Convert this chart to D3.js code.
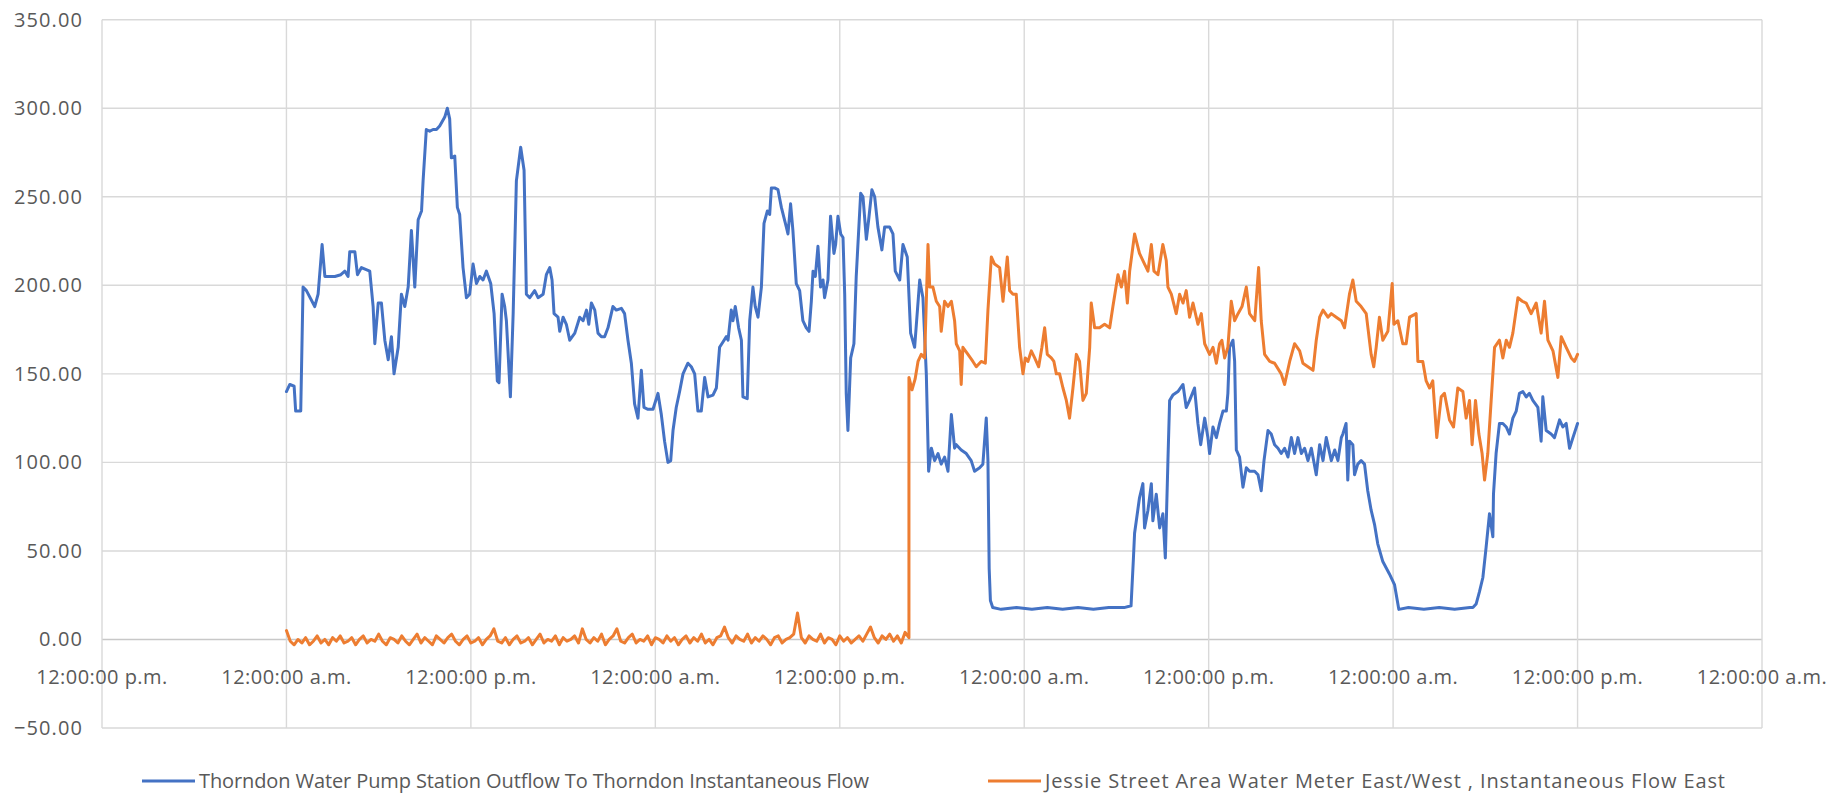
<!DOCTYPE html>
<html>
<head>
<meta charset="UTF-8" />
<title>Thorndon / Jessie Street flow</title>
<style>
  body { margin: 0; background: #fff; }
  svg text { font-family: "Open Sans", "Noto Sans", sans-serif; fill: #595959; }
</style>
</head>
<body>
<svg></svg>
<script src="https://d3js.org/d3.v7.min.js"></script>
<script>
// values, hours counted from the first midnight
const yTicks = [-50, 0, 50, 100, 150, 200, 250, 300, 350];
const xTickHours = [-12, 0, 12, 24, 36, 48, 60, 72, 84, 96];
const seriesNames = [
  "Thorndon Water Pump Station Outflow To Thorndon Instantaneous Flow",
  "Jessie Street Area Water Meter East/West , Instantaneous Flow East"
];
const seriesColours = ["#4472c4", "#ed7d31"];

// blue: [hour, flow]
const pumpOutflow = [
  [0,140],[0.22,144],[0.5,143],[0.6,129],[0.93,129],[1.08,199],[1.3,197],[1.84,188],[2.06,195],[2.32,223],
  [2.5,205],[3.15,205],[3.54,206],[3.8,208],[4.01,205],[4.12,219],[4.45,219],[4.62,206],[4.88,210],[5.42,208],
  [5.64,188],[5.75,167],[5.97,190],[6.18,190],[6.4,169],[6.62,158],[6.83,171],[7.0,150],[7.27,165],[7.48,195],
  [7.7,188],[7.92,199],[8.13,231],[8.35,199],[8.57,237],[8.79,242],[8.89,259],[9.1,288],[9.32,287],[9.54,288],
  [9.76,288],[9.97,290],[10.3,295],[10.47,300],[10.62,294],[10.73,272],[10.95,273],[11.12,244],[11.27,240],[11.49,210],
  [11.71,193],[11.92,195],[12.14,212],[12.36,201],[12.58,205],[12.79,203],[13.01,208],[13.29,201],[13.51,184],[13.72,146],
  [13.83,145],[14.03,195],[14.2,188],[14.31,180],[14.57,137],[14.75,184],[14.96,259],[15.24,278],[15.46,265],[15.61,195],
  [15.83,193],[16.15,197],[16.37,193],[16.7,195],[16.91,206],[17.13,210],[17.28,203],[17.41,184],[17.67,182],[17.78,174],
  [18.0,182],[18.21,178],[18.43,169],[18.76,173],[19.08,182],[19.3,180],[19.52,186],[19.67,178],[19.84,190],[20.06,186],
  [20.27,173],[20.49,171],[20.7,171],[20.92,176],[21.24,188],[21.46,186],[21.79,187],[22.0,184],[22.22,169],[22.44,156],
  [22.65,133],[22.87,125],[23.09,152],[23.26,131],[23.52,130],[23.85,130],[24.17,139],[24.39,127],[24.6,112],[24.82,100],
  [25.0,101],[25.15,118],[25.36,131],[25.58,140],[25.8,150],[26.12,156],[26.34,154],[26.56,150],[26.77,129],[26.99,129],
  [27.21,148],[27.43,137],[27.75,138],[27.97,142],[28.18,165],[28.4,168],[28.62,171],[28.73,169],[28.94,186],[29.05,180],
  [29.2,188],[29.42,176],[29.6,169],[29.7,137],[29.98,136],[30.14,180],[30.35,199],[30.5,188],[30.68,182],[30.9,199],
  [31.07,235],[31.29,242],[31.44,240],[31.55,255],[31.76,255],[31.98,254],[32.2,244],[32.52,233],[32.63,229],[32.8,246],
  [32.95,231],[33.17,201],[33.39,197],[33.6,180],[33.82,176],[34.0,174],[34.15,191],[34.26,208],[34.41,205],[34.58,222],
  [34.75,199],[34.91,203],[35.01,193],[35.23,203],[35.4,239],[35.62,218],[35.73,223],[35.88,239],[36.06,229],[36.21,227],
  [36.32,195],[36.42,139],[36.53,118],[36.71,159],[36.92,167],[37.07,205],[37.36,252],[37.51,250],[37.73,226],[37.88,237],
  [38.09,254],[38.27,250],[38.48,233],[38.74,220],[38.92,233],[39.24,233],[39.46,229],[39.61,208],[39.9,203],[40.11,223],
  [40.39,216],[40.61,173],[40.87,165],[41.2,203],[41.41,193],[41.63,150],[41.78,95],[41.96,108],[42.17,101],[42.39,105],
  [42.6,99],[42.82,103],[43.04,95],[43.26,127],[43.47,108],[43.58,110],[43.9,107],[44.23,105],[44.55,101],[44.77,95],
  [45.1,97],[45.31,99],[45.53,125],[45.64,101],[45.72,40],[45.8,22],[45.95,18],[46.5,17],[47.5,18],[48.5,17],
  [49.5,18],[50.5,17],[51.5,18],[52.5,17],[53.5,18],[54.5,18],[54.95,19],[55.1,45],[55.18,60],[55.5,80],
  [55.72,88],[55.83,63],[56.05,73],[56.27,88],[56.37,67],[56.59,82],[56.81,63],[57.02,71],[57.18,46],[57.35,101],
  [57.46,135],[57.67,138],[58.0,140],[58.33,144],[58.54,131],[58.76,135],[59.08,142],[59.3,122],[59.48,110],[59.74,125],
  [59.95,114],[60.06,105],[60.28,120],[60.5,114],[60.71,122],[60.93,129],[61.15,129],[61.25,139],[61.36,165],[61.58,169],
  [61.69,157],[61.8,107],[62.01,103],[62.23,86],[62.45,97],[62.66,95],[62.99,95],[63.21,93],[63.42,84],[63.6,101],
  [63.86,118],[64.07,116],[64.29,110],[64.51,108],[64.72,105],[64.94,108],[65.16,103],[65.38,114],[65.59,105],[65.81,114],
  [66.03,105],[66.24,108],[66.46,101],[66.68,108],[67.0,93],[67.22,110],[67.44,101],[67.65,114],[67.98,101],[68.2,107],
  [68.41,101],[68.63,114],[68.73,116],[68.94,122],[69.05,90],[69.16,112],[69.38,110],[69.49,93],[69.7,99],[69.92,101],
  [70.14,99],[70.35,84],[70.57,73],[70.79,65],[71.0,54],[71.33,44],[71.76,37],[72.09,31],[72.37,17],[73,18],
  [74,17],[75,18],[76,17],[77,18],[77.19,18],[77.4,20],[77.62,27],[77.84,35],[78.05,52],[78.27,71],
  [78.49,58],[78.53,82],[78.7,105],[78.92,122],[79.14,122],[79.36,120],[79.57,116],[79.79,125],[80.01,129],[80.22,139],
  [80.44,140],[80.66,137],[80.87,139],[81.09,135],[81.42,131],[81.63,112],[81.74,137],[81.96,118],[82.28,116],[82.5,114],
  [82.83,124],[83.04,120],[83.26,122],[83.48,108],[83.7,114],[84,122]
];

// orange while idle: one reading every 15 minutes from hour 0 to 40.5
const jessieIdle = [
  5,-1,-3,0,-2,1,-3,-1,2,-2, 0,-3,1,-1,2,-2,-1,1,-3,0,
  2,-2,0,-1,3,-1,-3,1,0,-2, 2,-1,-3,0,3,-2,1,-1,-3,2,
  0,-2,1,3,-1,-3,0,2,-2,-1, 1,-3,0,2,6,-1,-2,1,-3,0,
  2,-2,-1,1,-3,0,3,-2,0,-1, 2,-3,1,-1,0,2,-2,6,0,-2,
  1,-1,3,-3,0,2,6,-1,-2,1, 3,-2,0,-1,2,-3,1,0,-2,2,
  -1,1,-3,0,2,-2,1,-1,3,-2, 0,-3,1,2,7,1,-2,2,0,-1,
  3,-2,1,-1,2,0,-3,1,2,-2, 0,1,3,15,1,-2,2,0,-1,3,
  -2,1,0,-3,2,-1,1,-2,0,2, -1,3,7,1,-2,2,0,3,-1,2,
  -2,4,1
];

// orange once flowing: [hour, flow]
const jessieFlow = [
  [40.5,148],[40.7,141],[40.9,147],[41.09,157],[41.3,161],[41.52,159],[41.74,223],[41.85,199],[42.06,199],[42.28,191],
  [42.5,188],[42.6,174],[42.82,191],[43.04,188],[43.26,191],[43.47,180],[43.58,167],[43.8,163],[43.9,144],[44.01,165],
  [44.34,161],[44.66,157],[44.88,154],[45.2,157],[45.47,156],[45.64,186],[45.86,216],[46.07,212],[46.4,210],[46.62,191],
  [46.9,216],[47.05,197],[47.27,195],[47.48,195],[47.7,165],[47.92,150],[48.07,159],[48.24,157],[48.46,163],[48.68,159],
  [48.94,154],[49.15,165],[49.33,176],[49.5,161],[49.76,159],[49.93,157],[50.09,150],[50.3,150],[50.52,142],[50.74,135],
  [50.95,125],[51.17,142],[51.39,161],[51.6,157],[51.82,135],[52.04,139],[52.26,165],[52.36,190],[52.58,176],[52.9,176],
  [53.23,178],[53.56,176],[53.77,188],[54.1,206],[54.32,199],[54.53,208],[54.71,190],[54.86,208],[55.18,229],[55.5,218],
  [55.83,212],[56.05,208],[56.27,223],[56.44,208],[56.7,206],[57.02,223],[57.24,214],[57.35,199],[57.57,195],[57.89,184],
  [58.11,195],[58.33,190],[58.54,197],[58.76,182],[58.98,190],[59.3,178],[59.52,184],[59.74,167],[60.06,161],[60.28,165],
  [60.5,156],[60.71,167],[60.86,169],[61.04,159],[61.25,165],[61.47,191],[61.69,180],[61.91,184],[62.17,188],[62.45,199],
  [62.66,184],[63.0,180],[63.25,210],[63.42,180],[63.64,161],[63.97,157],[64.29,156],[64.72,150],[64.94,144],[65.27,157],
  [65.59,167],[65.92,163],[66.13,156],[66.46,154],[66.79,152],[67.0,169],[67.22,182],[67.44,186],[67.76,182],[67.98,184],
  [68.3,182],[68.63,180],[68.84,176],[69.16,195],[69.38,203],[69.6,191],[69.92,188],[70.25,184],[70.57,161],[70.74,154],
  [70.9,165],[71.11,182],[71.33,169],[71.66,174],[71.94,201],[72.05,178],[72.31,180],[72.63,167],[72.85,167],[73.07,182],
  [73.5,184],[73.61,157],[73.93,157],[74.15,146],[74.37,142],[74.58,146],[74.84,114],[75.13,137],[75.34,139],[75.67,124],
  [75.93,120],[76.21,142],[76.54,140],[76.75,125],[76.97,135],[77.14,110],[77.36,135],[77.58,116],[77.79,105],[77.95,90],
  [78.16,105],[78.38,135],[78.6,165],[78.92,169],[79.14,159],[79.36,169],[79.57,165],[79.79,173],[80.12,193],[80.4,191],
  [80.66,190],[80.98,184],[81.31,190],[81.63,173],[81.85,191],[82.07,169],[82.4,163],[82.72,148],[82.94,171],[83.26,165],
  [83.59,159],[83.8,157],[84,161]
];

const width = 1845, height = 796;
const svg = d3.select("svg").attr("width", width).attr("height", height);

const start = new Date(2021, 5, 1, 0, 0, 0);
const at = h => new Date(start.getTime() + h * 3600 * 1000);

const x = d3.scaleTime().domain([at(-12), at(96)]).range([102, 1762]);
const y = d3.scaleLinear().domain([-50, 350]).range([728, 19.7]);

const fmtTime = d3.timeFormat("%I:%M:%S");
const fmtLabel = d => fmtTime(d) + (d.getHours() < 12 ? " a.m." : " p.m.");

// gridlines
svg.append("g")
  .selectAll("line")
  .data(yTicks)
  .enter()
  .append("line")
  .attr("x1", x.range()[0]).attr("x2", x.range()[1])
  .attr("y1", d => y(d)).attr("y2", d => y(d))
  .attr("stroke", d => d === 0 ? "#c8c8c8" : "#d9d9d9")
  .attr("stroke-width", 1.4);

svg.append("g")
  .selectAll("line")
  .data(xTickHours)
  .enter()
  .append("line")
  .attr("x1", d => x(at(d))).attr("x2", d => x(at(d)))
  .attr("y1", y.range()[1]).attr("y2", y.range()[0])
  .attr("stroke", "#d9d9d9")
  .attr("stroke-width", 1.4);

// y labels
svg.append("g")
  .selectAll("text")
  .data(yTicks)
  .enter()
  .append("text")
  .attr("x", 83)
  .attr("y", d => y(d))
  .attr("dy", "0.35em")
  .attr("text-anchor", "end")
  .style("font-size", "20px")
  .style("letter-spacing", "1.1px")
  .text(d => d3.format(".2f")(d));

// x labels, hung under the zero line
svg.append("g")
  .selectAll("text")
  .data(xTickHours)
  .enter()
  .append("text")
  .attr("x", d => x(at(d)))
  .attr("y", 677)
  .attr("dy", "0.35em")
  .attr("text-anchor", "middle")
  .style("font-size", "20px")
  .style("letter-spacing", "0.45px")
  .text(d => fmtLabel(at(d)));

// series
const line = d3.line()
  .x(d => x(at(d[0])))
  .y(d => y(d[1]));

const jessie = jessieIdle.map((v, i) => [i * 0.25, v]).concat(jessieFlow);

[pumpOutflow, jessie].forEach((s, i) => {
  svg.append("path")
    .datum(s)
    .attr("fill", "none")
    .attr("stroke", seriesColours[i])
    .attr("stroke-width", 3)
    .attr("stroke-linejoin", "round")
    .attr("stroke-linecap", "round")
    .attr("d", line);
});

// legend
const legendX = [142, 988];
const legendTextLen = [670, 680];
const legend = svg.append("g");
seriesNames.forEach((name, i) => {
  legend.append("line")
    .attr("x1", legendX[i]).attr("x2", legendX[i] + 53)
    .attr("y1", 781).attr("y2", 781)
    .attr("stroke", seriesColours[i])
    .attr("stroke-width", 3);
  legend.append("text")
    .attr("x", legendX[i] + 57)
    .attr("y", 781)
    .attr("dy", "0.35em")
    .attr("textLength", legendTextLen[i])
    .attr("lengthAdjust", "spacing")
    .style("font-size", "20px")
    .text(name);
});
</script>
</body>
</html>
